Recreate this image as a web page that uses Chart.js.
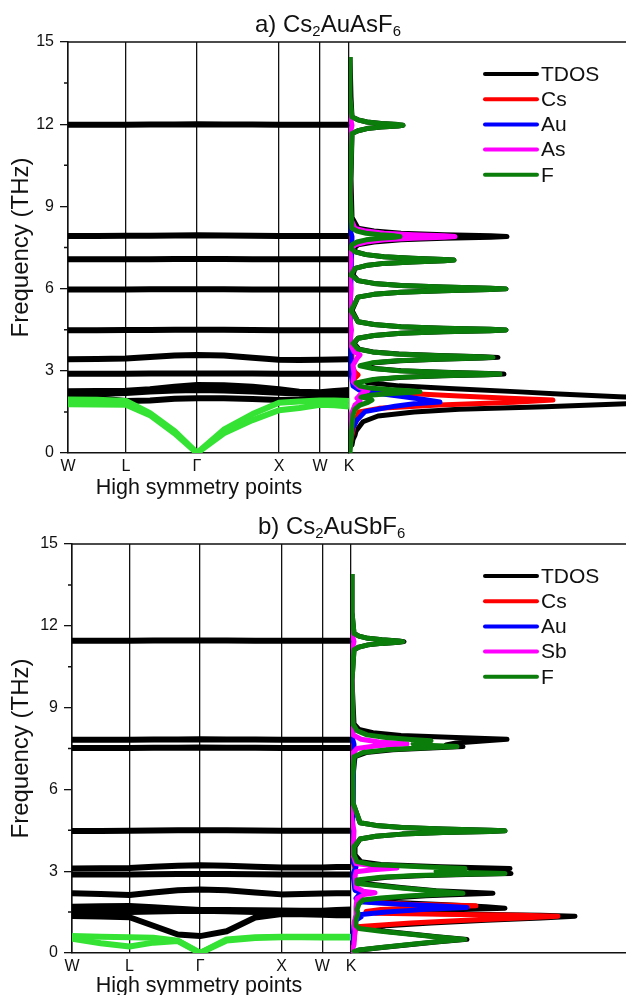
<!DOCTYPE html>
<html lang="en">
<head>
  <meta charset="UTF-8">
  <title>Phonon dispersion and DOS</title>
  <script src="https://cdn.jsdelivr.net/npm/chart.js"></script>
  <style>
    body {
      margin: 0;
      background: #fff;
      font-family: "Liberation Sans", Arial, sans-serif;
      color: #111;
    }
    #page {
      position: relative;
      width: 626px;
      height: 995px;
      overflow: hidden;
    }
    canvas { position: absolute; left: 0; }
    #chartA { top: 0; }
    #chartB { top: 495px; }
    .title {
      position: absolute;
      font-size: 24px;
      line-height: 24px;
      white-space: nowrap;
    }
    .title sub {
      font-size: 0.62em;
      line-height: 0;
      vertical-align: -0.3em;
    }
    .xlabel {
      position: absolute;
      font-size: 21.5px;
      line-height: 21px;
      white-space: nowrap;
      transform: translateX(-50%);
    }
  </style>
</head>
<body>
<div id="page">
  <canvas id="chartA" width="626" height="495"></canvas>
  <canvas id="chartB" width="626" height="500"></canvas>
  <div class="title" style="left:255px; top:12px">a) Cs<sub>2</sub>AuAsF<sub>6</sub></div>
  <div class="xlabel" style="left:199px; top:477px">High symmetry points</div>
  <div class="title" style="left:258px; top:514px">b) Cs<sub>2</sub>AuSbF<sub>6</sub></div>
  <div class="xlabel" style="left:199px; top:975px">High symmetry points</div>
</div>

<script>
  // k-path W-L-Γ-X-W-K (units of 2π/a) and the sampled positions
  const kPath = [0, 0.354, 0.707, 1.0, 1.3, 1.573, 1.9, 2.25, 2.573, 2.82, 3.073, 3.25, 3.427];
  const symPos = [0, 0.707, 1.573, 2.573, 3.073, 3.427];
  const symLabels = ['W', 'L', 'Γ', 'X', 'W', 'K'];
  const minorTicks = [1.5, 4.5, 7.5, 10.5, 13.5];

  // Cs2AuAsF6 optical branches (THz), one row per band along kPath
  const bandsA = [
    [11.98, 11.98, 11.98, 11.99, 11.99, 12.0, 11.99, 11.99, 11.98, 11.98, 11.98, 11.98, 11.98],
    [7.92, 7.92, 7.93, 7.93, 7.94, 7.95, 7.94, 7.93, 7.92, 7.92, 7.92, 7.92, 7.92],
    [7.07, 7.07, 7.07, 7.07, 7.08, 7.08, 7.08, 7.07, 7.07, 7.07, 7.07, 7.07, 7.07],
    [5.97, 5.97, 5.97, 5.98, 5.98, 5.98, 5.98, 5.97, 5.97, 5.97, 5.97, 5.97, 5.97],
    [4.48, 4.48, 4.49, 4.49, 4.5, 4.5, 4.5, 4.49, 4.48, 4.48, 4.48, 4.48, 4.48],
    [3.42, 3.43, 3.45, 3.5, 3.56, 3.58, 3.56, 3.48, 3.4, 3.39, 3.4, 3.41, 3.42],
    [2.89, 2.89, 2.89, 2.9, 2.9, 2.9, 2.9, 2.9, 2.89, 2.89, 2.89, 2.89, 2.89],
    [2.25, 2.26, 2.27, 2.33, 2.42, 2.48, 2.47, 2.42, 2.33, 2.24, 2.22, 2.26, 2.3],
    [2.12, 2.15, 2.19, 2.24, 2.28, 2.3, 2.28, 2.24, 2.2, 2.17, 2.15, 2.18, 2.2],
    [2.05, 2.0, 1.9, 1.92, 1.98, 2.0, 2.0, 1.97, 1.93, 1.95, 2.0, 2.03, 2.05]
  ];
  const acousticA = [
    [1.95, 1.94, 1.9, 1.45, 0.8, 0, 0.85, 1.42, 1.83, 1.88, 1.92, 1.92, 1.9],
    [1.78, 1.77, 1.76, 1.38, 0.72, 0, 0.72, 1.2, 1.56, 1.64, 1.76, 1.74, 1.7]
  ];

  // Cs2AuSbF6 optical branches
  const bandsB = [
    [11.45, 11.45, 11.45, 11.46, 11.46, 11.46, 11.46, 11.45, 11.45, 11.45, 11.45, 11.45, 11.45],
    [7.82, 7.82, 7.82, 7.83, 7.83, 7.84, 7.83, 7.83, 7.82, 7.82, 7.82, 7.82, 7.82],
    [7.52, 7.52, 7.52, 7.53, 7.53, 7.54, 7.53, 7.53, 7.52, 7.52, 7.52, 7.52, 7.52],
    [4.47, 4.47, 4.48, 4.49, 4.5, 4.5, 4.5, 4.49, 4.48, 4.48, 4.48, 4.48, 4.48],
    [3.1, 3.11, 3.12, 3.16, 3.2, 3.22, 3.2, 3.16, 3.14, 3.14, 3.14, 3.15, 3.15],
    [2.88, 2.88, 2.88, 2.89, 2.9, 2.9, 2.9, 2.89, 2.88, 2.88, 2.88, 2.88, 2.88],
    [2.19, 2.16, 2.13, 2.22, 2.3, 2.33, 2.3, 2.22, 2.15, 2.16, 2.18, 2.19, 2.19],
    [1.7, 1.71, 1.72, 1.68, 1.62, 1.58, 1.58, 1.57, 1.56, 1.55, 1.55, 1.58, 1.6],
    [1.5, 1.5, 1.5, 1.52, 1.54, 1.55, 1.53, 1.5, 1.48, 1.47, 1.5, 1.5, 1.5],
    [1.36, 1.34, 1.31, 1.0, 0.68, 0.62, 0.8, 1.3, 1.43, 1.42, 1.4, 1.38, 1.38]
  ];
  const acousticB = [
    [0.62, 0.6, 0.58, 0.56, 0.45, 0, 0.5, 0.58, 0.6, 0.6, 0.6, 0.6, 0.6],
    [0.52, 0.36, 0.24, 0.38, 0.44, 0, 0.46, 0.55, 0.58, 0.58, 0.57, 0.57, 0.57]
  ];

  // phonon DOS, pairs of [frequency (THz), DOS (arb. units)]
  const dosTotalA = [
    [0.2, 0], [0.3, 0.3], [0.5, 0.4], [0.65, 0.6], [0.8, 0.7], [0.95, 1.0], [1.14, 1.4], [1.35, 2.9], [1.5, 6.5],
    [1.6, 11], [1.69, 19.6], [1.8, 28], [1.9, 33], [1.98, 33], [2.05, 27], [2.15, 21], [2.24, 16.6], [2.35, 10],
    [2.45, 5], [2.57, 1.8],
    [2.68, 2.6], [2.76, 5.3], [2.815, 9.4], [2.855, 14.0], [2.88, 15.5], [2.905, 14.0], [2.945, 9.4], [3.0, 5.2], [3.08, 2.6], [3.185, 1.5],
    [3.29, 2.6], [3.37, 5.1], [3.425, 9.0], [3.465, 13.4], [3.49, 14.9], [3.515, 13.4], [3.555, 9.0], [3.61, 5.0], [3.69, 2.4], [3.79, 1.0], [4.0, 0.5],
    [4.19, 0.9], [4.29, 2.5], [4.37, 5.2], [4.425, 9.4], [4.465, 14.1], [4.49, 15.7], [4.515, 14.1], [4.555, 9.4], [4.61, 5.2], [4.69, 2.5], [4.79, 0.9], [5.2, 0.3],
    [5.69, 0.9], [5.79, 2.5], [5.87, 5.2], [5.925, 9.4], [5.965, 14.1], [5.99, 15.7], [6.015, 14.1], [6.055, 9.4], [6.11, 5.2], [6.19, 2.5], [6.29, 0.9], [6.5, 0.4],
    [6.74, 0.6], [6.84, 1.7], [6.92, 3.5], [6.975, 6.3], [7.015, 9.5], [7.04, 10.5], [7.065, 9.5], [7.105, 6.3], [7.16, 3.5], [7.24, 1.7], [7.34, 0.7], [7.47, 0.5],
    [7.6, 0.9], [7.7, 2.5], [7.78, 5.2], [7.835, 9.5], [7.875, 14.2], [7.9, 15.8], [7.925, 14.2], [7.965, 9.5], [8.02, 5.2], [8.1, 2.5], [8.2, 0.9], [8.6, 0.3], [10, 0.2],
    [11.66, 0.3], [11.76, 0.9], [11.84, 1.8], [11.895, 3.2], [11.935, 4.9], [11.96, 5.4], [11.985, 4.9], [12.025, 3.2], [12.08, 1.8], [12.16, 0.9], [12.26, 0.3], [13, 0.2], [14.45, 0.1]
  ];
  const dosCsA = [
    [0, 0], [0.5, 0.2], [1.0, 0.5], [1.3, 0.8], [1.5, 1.0], [1.63, 3.0], [1.75, 9.0], [1.85, 16.5], [1.93, 20.4],
    [2.0, 16], [2.08, 11], [2.16, 6.5], [2.24, 2.5], [2.35, 1.2], [2.5, 0.6], [2.7, 0.5], [2.85, 0.9], [2.95, 0.6],
    [3.2, 0.3], [3.6, 0.3], [4.0, 0.1], [8, 0.1], [14.45, 0]
  ];
  const dosAuA = [
    [0.3, 0], [0.6, 0.2], [0.9, 0.35], [1.2, 0.8], [1.51, 1.6], [1.71, 4.6], [1.8, 6.5], [1.86, 9.1], [1.95, 7.5],
    [2.05, 5.5], [2.19, 2.6], [2.3, 1.0], [2.45, 0.4], [2.9, 0.2], [3.5, 0.2], [4.0, 0.05], [7.9, 0.3], [8.3, 0], [14.45, 0]
  ];
  const dosAsA = [
    [0.2, 0], [1.4, 0.2], [1.75, 0.6], [1.9, 1.1], [2.0, 0.8], [2.15, 1.2], [2.28, 1.9], [2.4, 1.0], [2.6, 0.4],
    [2.88, 0.5], [3.2, 0.4], [3.45, 0.8], [3.58, 1.1], [3.7, 0.5], [4.0, 0.1], [4.49, 0.25], [5.0, 0.05], [5.99, 0.2],
    [6.5, 0.05], [7.04, 0.2], [7.36, 0.1],
    [7.6, 0.6], [7.7, 1.7], [7.78, 3.5], [7.835, 6.4], [7.875, 9.5], [7.9, 10.6], [7.925, 9.5], [7.965, 6.4], [8.02, 3.5], [8.1, 1.7], [8.2, 0.6],
    [8.6, 0.1], [11.5, 0.05], [11.96, 0.3], [12.4, 0.05], [14.45, 0]
  ];
  const dosFA = [
    [0, 0.1], [0.5, 0.2], [1.0, 0.3], [1.4, 0.4], [1.6, 0.6], [1.75, 1.1], [1.85, 1.9], [1.93, 2.3], [2.0, 1.8],
    [2.04, 1.2], [2.12, 2.3], [2.175, 4.3], [2.215, 6.4], [2.24, 7.1], [2.265, 6.4], [2.305, 4.3], [2.36, 2.3], [2.44, 1.1], [2.56, 0.7],
    [2.68, 2.4], [2.76, 5.0], [2.815, 9.1], [2.855, 13.6], [2.88, 15.1], [2.905, 13.6], [2.945, 9.1], [3.0, 5.0], [3.08, 2.4], [3.185, 1.1],
    [3.29, 2.3], [3.37, 4.8], [3.425, 8.6], [3.465, 13.0], [3.49, 14.4], [3.515, 13.0], [3.555, 8.6], [3.61, 4.8], [3.69, 2.3], [3.79, 0.9], [4.0, 0.4],
    [4.19, 0.9], [4.29, 2.5], [4.37, 5.2], [4.425, 9.4], [4.465, 14.1], [4.49, 15.7], [4.515, 14.1], [4.555, 9.4], [4.61, 5.2], [4.69, 2.5], [4.79, 0.9], [5.2, 0.2],
    [5.69, 0.9], [5.79, 2.5], [5.87, 5.2], [5.925, 9.4], [5.965, 14.1], [5.99, 15.7], [6.015, 14.1], [6.055, 9.4], [6.11, 5.2], [6.19, 2.5], [6.29, 0.9], [6.5, 0.2],
    [6.74, 0.6], [6.84, 1.7], [6.92, 3.5], [6.975, 6.3], [7.015, 9.5], [7.04, 10.5], [7.065, 9.5], [7.105, 6.3], [7.16, 3.5], [7.24, 1.7], [7.34, 0.6], [7.47, 0.2],
    [7.6, 0.3], [7.7, 0.8], [7.78, 1.7], [7.835, 3.1], [7.875, 4.6], [7.9, 5.1], [7.925, 4.6], [7.965, 3.1], [8.02, 1.7], [8.1, 0.8], [8.2, 0.3], [9.5, 0.1],
    [11.66, 0.3], [11.76, 0.9], [11.84, 1.8], [11.895, 3.2], [11.935, 4.9], [11.96, 5.4], [11.985, 4.9], [12.025, 3.2], [12.08, 1.8], [12.16, 0.9], [12.26, 0.3], [13, 0.1], [14.45, 0.1]
  ];

  const dosTotalB = [
    [0, 0.2], [0.05, 0.4], [0.11, 0.9], [0.2, 3.1], [0.3, 5.8], [0.4, 8.5], [0.5, 11.6], [0.6, 8.6], [0.7, 6.0], [0.8, 3.4], [0.92, 1.6],
    [1.0, 3.5], [1.1, 8], [1.2, 13.5], [1.28, 19], [1.35, 22.4], [1.38, 19], [1.42, 12], [1.47, 5.5], [1.52, 6.0], [1.58, 9.5],
    [1.64, 15.4], [1.7, 13.5], [1.78, 9], [1.85, 4.5], [1.92, 1.8], [2.0, 3.2], [2.1, 7.5], [2.19, 14.2], [2.28, 8.5], [2.4, 5.0],
    [2.55, 1.3], [2.68, 1.0], [2.78, 3.6], [2.84, 7.5], [2.885, 12.5], [2.92, 16.0], [2.96, 12.5], [3.02, 12], [3.1, 15.9], [3.16, 9],
    [3.25, 3], [3.35, 1.0], [3.6, 0.4], [3.9, 0.4],
    [4.18, 0.9], [4.28, 2.5], [4.36, 5.1], [4.415, 9.2], [4.455, 13.9], [4.48, 15.4], [4.505, 13.9], [4.545, 9.2], [4.6, 5.1], [4.68, 2.5], [4.78, 0.9], [5.5, 0.2], [6.5, 0.2],
    [7.2, 0.4], [7.35, 1.5], [7.45, 4.2], [7.52, 8.0], [7.57, 11.2], [7.63, 9.5], [7.7, 10.5], [7.78, 13.5], [7.84, 15.6], [7.9, 10.5],
    [7.98, 5], [8.08, 2.2], [8.2, 0.8], [8.4, 0.3], [10, 0.1],
    [11.12, 0.3], [11.22, 0.8], [11.3, 1.7], [11.355, 3.1], [11.395, 4.8], [11.42, 5.3], [11.445, 4.8], [11.485, 3.1], [11.54, 1.7], [11.62, 0.8], [11.72, 0.3], [12.5, 0.1], [13.9, 0.1]
  ];
  const dosCsB = [
    [0, 0], [0.5, 0.3], [0.8, 0.4], [0.96, 0.6], [1.0, 2.0], [1.1, 6.0], [1.2, 11.5], [1.28, 17], [1.35, 20.7], [1.38, 17],
    [1.42, 9], [1.46, 2.5], [1.52, 1.5], [1.6, 3.0], [1.67, 7.5], [1.73, 12.5], [1.79, 6], [1.86, 2.0], [1.95, 0.7], [2.1, 0.8],
    [2.2, 1.2], [2.35, 0.4], [2.9, 0.3], [3.1, 0.4], [3.5, 0.1], [7.8, 0.1], [13.9, 0]
  ];
  const dosAuB = [
    [0, 0], [0.5, 0.2], [1.0, 0.3], [1.2, 0.5], [1.32, 1.0], [1.4, 0.8], [1.5, 3.5], [1.6, 7.5], [1.67, 11.6], [1.72, 9],
    [1.8, 4.5], [1.88, 0.8], [2.0, 0.5], [2.13, 0.8], [2.2, 1.2], [2.3, 0.4], [2.9, 0.2], [3.15, 0.5], [3.4, 0.1], [7.66, 0.3],
    [8, 0.05], [13.9, 0]
  ];
  const dosSbB = [
    [0, 0], [0.3, 0.3], [0.8, 0.4], [1.1, 0.3], [1.4, 0.5], [1.7, 0.5], [2.0, 0.6], [2.14, 1.3], [2.21, 2.4], [2.27, 1.2],
    [2.4, 0.5], [2.8, 0.4], [2.98, 0.5], [3.05, 2.2], [3.12, 4.6], [3.2, 2.2], [3.28, 0.5], [3.6, 0.2], [4.48, 0.3], [5, 0.05],
    [7.3, 0.1], [7.5, 0.6], [7.6, 2.6], [7.67, 5.6], [7.74, 2.8], [7.84, 1.0], [8.0, 0.2], [11.0, 0.05], [11.42, 0.3], [11.8, 0.05], [13.9, 0]
  ];
  const dosFB = [
    [0, 0.2], [0.05, 0.3], [0.11, 0.8], [0.2, 3.0], [0.3, 5.6], [0.4, 8.3], [0.5, 11.4], [0.6, 8.4], [0.7, 5.7], [0.8, 3.0], [0.9, 0.8],
    [1.0, 0.5], [1.2, 0.5], [1.45, 0.7], [1.6, 0.6], [1.8, 0.8], [1.94, 1.2], [2.02, 3.0], [2.1, 6.0], [2.19, 11.2], [2.3, 7.5],
    [2.4, 4.5], [2.55, 0.6], [2.68, 0.6], [2.78, 3.0], [2.84, 6.5], [2.885, 11.5], [2.92, 15.4], [2.955, 11.5], [3.0, 8.5], [3.05, 9.5],
    [3.1, 11.4], [3.16, 7], [3.25, 2.0], [3.35, 0.6], [3.6, 0.3], [3.9, 0.3],
    [4.18, 0.9], [4.28, 2.5], [4.36, 5.1], [4.415, 9.2], [4.455, 13.9], [4.48, 15.4], [4.505, 13.9], [4.545, 9.2], [4.6, 5.1], [4.68, 2.5], [4.78, 0.9], [5.5, 0.2], [6.5, 0.2],
    [7.2, 0.3], [7.35, 1.2], [7.45, 3.5], [7.52, 7.0], [7.57, 10.6], [7.62, 7.5], [7.67, 6.2], [7.72, 7.0], [7.78, 8.0], [7.83, 6.0],
    [7.9, 3.5], [8.0, 1.6], [8.15, 0.6], [8.4, 0.2], [10, 0.1],
    [11.12, 0.3], [11.22, 0.8], [11.3, 1.7], [11.355, 3.1], [11.395, 4.7], [11.42, 5.2], [11.445, 4.7], [11.485, 3.1], [11.54, 1.7], [11.62, 0.8], [11.72, 0.3], [12.5, 0.1], [13.9, 0.1]
  ];

  const FONT = '"Liberation Sans", Arial, sans-serif';
  Chart.defaults.font.family = FONT;
  Chart.defaults.color = '#111';

  const INK = '#111';
  const colors = { tdos: '#000000', cs: '#ff0000', au: '#0000ff', x: '#ff00ff', f: '#0b7d0b', acoustic: '#35e335' };

  // top border of the frame and the short minor ticks on the frequency axis
  const frame = {
    id: 'frame',
    afterDatasetsDraw(chart) {
      const { ctx, chartArea: a, scales: { y } } = chart;
      ctx.save();
      ctx.strokeStyle = INK;
      ctx.lineWidth = 1.5;
      ctx.beginPath();
      ctx.moveTo(a.left, a.top);
      ctx.lineTo(a.right, a.top);
      minorTicks.forEach(v => {
        const py = y.getPixelForValue(v);
        ctx.moveTo(a.left - 4, py);
        ctx.lineTo(a.left, py);
      });
      ctx.stroke();
      ctx.restore();
    }
  };

  // legend for the DOS curves, inside the plot at the upper right
  const dosLegend = {
    id: 'dosLegend',
    afterDraw(chart, args, opts) {
      const { ctx, chartArea: a } = chart;
      const items = chart.data.datasets.filter(d => d.xAxisID === 'xd');
      const x = a.right - opts.right;
      let y = a.top + opts.top;
      ctx.save();
      ctx.font = '21px ' + FONT;
      ctx.textBaseline = 'middle';
      items.forEach(d => {
        ctx.strokeStyle = d.borderColor;
        ctx.lineWidth = 4;
        ctx.lineCap = 'round';
        ctx.beginPath();
        ctx.moveTo(x, y);
        ctx.lineTo(x + 52, y);
        ctx.stroke();
        ctx.fillStyle = INK;
        ctx.fillText(d.label, x + 56, y + 1);
        y += 25.2;
      });
      ctx.restore();
    }
  };

  function bandSets(bands, color, width, order) {
    return bands.map(b => ({
      data: kPath.map((k, i) => ({ x: k, y: b[i] })),
      xAxisID: 'x',
      yAxisID: 'y',
      borderColor: color,
      borderWidth: width,
      order: order,
      pointRadius: 0,
      tension: 0,
      borderJoinStyle: 'round'
    }));
  }

  function dosSet(label, pairs, color, order) {
    return {
      label: label,
      data: pairs.map(p => ({ x: p[1], y: p[0] })),
      xAxisID: 'xd',
      yAxisID: 'y',
      borderColor: color,
      borderWidth: 5,
      order: order,
      pointRadius: 0,
      tension: 0,
      borderJoinStyle: 'round'
    };
  }

  function makePanel(id, p) {
    return new Chart(document.getElementById(id), {
      type: 'line',
      data: {
        datasets: [
          ...bandSets(p.bands, '#000', 6, 20),
          ...bandSets(p.acoustic, colors.acoustic, 6, 10),
          ...p.dos
        ]
      },
      options: {
        responsive: false,
        animation: false,
        events: [],
        layout: { padding: { top: p.top, left: 0, right: 0, bottom: 0 } },
        plugins: {
          legend: { display: false },
          title: { display: false },
          tooltip: { enabled: false },
          dosLegend: { top: 32, right: 141 }
        },
        scales: {
          x: {
            type: 'linear',
            position: 'bottom',
            stack: 'row',
            stackWeight: p.wDisp,
            min: 0,
            max: symPos[symPos.length - 1],
            afterBuildTicks: s => { s.ticks = symPos.map(v => ({ value: v })); },
            afterFit: s => { s.height = p.axisH; s.paddingLeft = 0; s.paddingRight = 0; },
            ticks: {
              autoSkip: false,
              maxRotation: 0,
              padding: 4,
              font: { size: 16 },
              callback: (v, i) => symLabels[i]
            },
            grid: { color: INK, lineWidth: 1.3, drawTicks: false },
            border: { color: INK, width: 1.5 }
          },
          xd: {
            type: 'linear',
            position: 'bottom',
            stack: 'row',
            stackWeight: p.wDos,
            min: 0,
            max: p.dosMax,
            afterFit: s => { s.height = p.axisH; s.paddingLeft = 0; s.paddingRight = 0; },
            ticks: { display: false },
            grid: { display: false },
            border: { color: INK, width: 1.5 }
          },
          y: {
            type: 'linear',
            position: 'left',
            min: 0,
            max: 15,
            afterFit: s => { s.width = p.yW; s.paddingTop = 0; s.paddingBottom = 0; },
            ticks: { stepSize: 3, padding: 6, font: { size: 16 } },
            grid: { drawOnChartArea: false, tickLength: 8, color: INK, lineWidth: 1.3 },
            border: { color: INK, width: 1.5 },
            title: {
              display: true,
              text: 'Frequency (THz)',
              font: { size: 24 },
              padding: { top: 7, bottom: 0 }
            }
          }
        }
      },
      plugins: [frame, dosLegend]
    });
  }

  makePanel('chartA', {
    bands: bandsA,
    acoustic: acousticA,
    top: 42, axisH: 42, yW: 68, wDisp: 281, wDos: 277, dosMax: 27.7,
    dos: [
      dosSet('TDOS', dosTotalA, colors.tdos, 5),
      dosSet('Cs', dosCsA, colors.cs, 4),
      dosSet('Au', dosAuA, colors.au, 3),
      dosSet('As', dosAsA, colors.x, 2),
      dosSet('F', dosFA, colors.f, 1)
    ]
  });

  makePanel('chartB', {
    bands: bandsB,
    acoustic: acousticB,
    top: 49, axisH: 42, yW: 72, wDisp: 279, wDos: 275, dosMax: 27.5,
    dos: [
      dosSet('TDOS', dosTotalB, colors.tdos, 5),
      dosSet('Cs', dosCsB, colors.cs, 4),
      dosSet('Au', dosAuB, colors.au, 3),
      dosSet('Sb', dosSbB, colors.x, 2),
      dosSet('F', dosFB, colors.f, 1)
    ]
  });
</script>
</body>
</html>
